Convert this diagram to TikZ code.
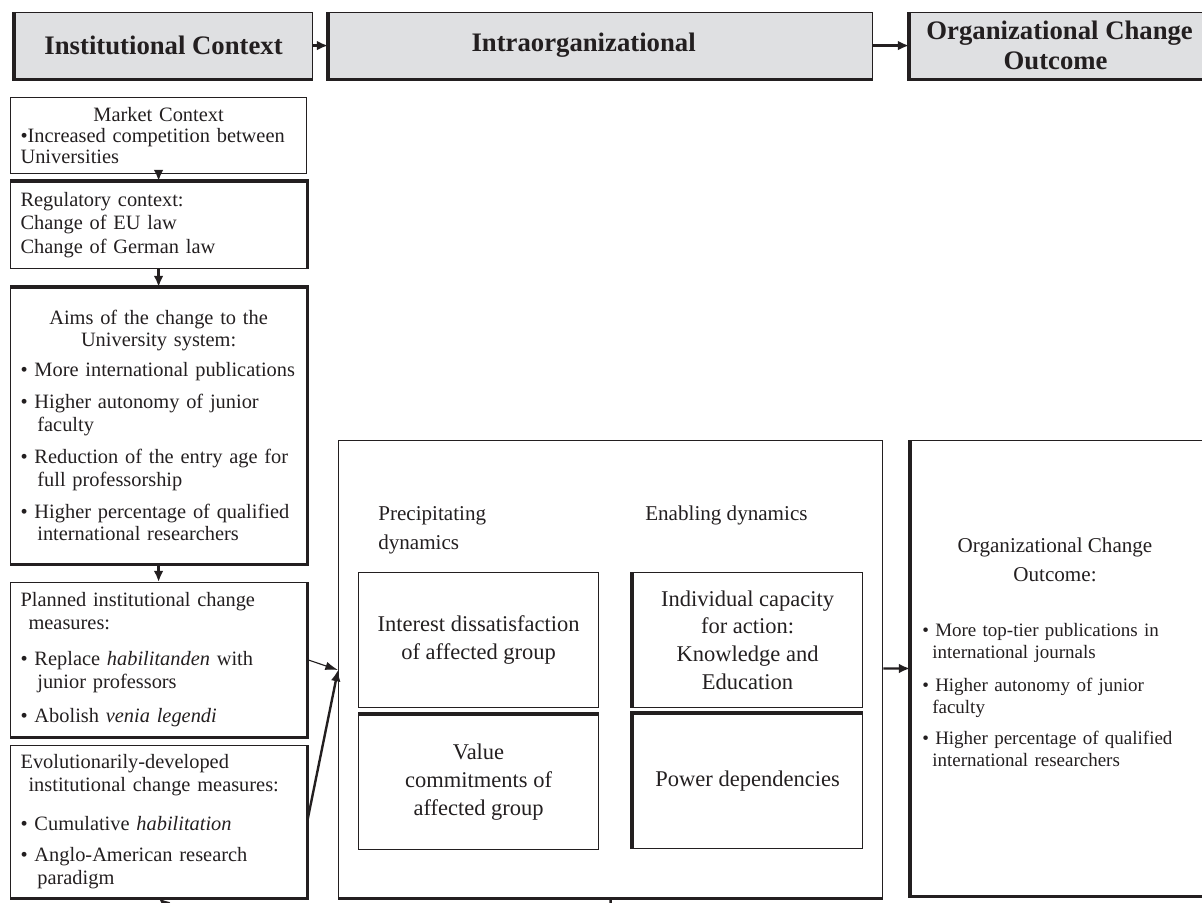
\documentclass[tikz,border=0pt]{standalone}
\usepackage{fontspec}
\setmainfont{Liberation Serif}
\usetikzlibrary{arrows.meta}
\definecolor{hdrgray}{RGB}{223,224,226}
\definecolor{ink}{RGB}{35,31,32}

\begin{document}
\begin{tikzpicture}
  [x=0.025cm,y=-0.025cm,
   every node/.style={inner sep=0pt,text=ink},
   hdr/.style={draw=ink,line width=0.8pt,fill=hdrgray,anchor=north west,
     minimum height=1.65cm,align=center,font=\fontsize{19}{21}\selectfont\bfseries},
   box/.style={draw=ink,line width=0.8pt,anchor=north west,align=left,
     inner xsep=0.25cm,text width=6.9cm,font=\fontsize{14.5}{16}\selectfont},
   inbox/.style={draw=ink,line width=0.8pt,anchor=north west,align=center,
     minimum height=3.375cm,font=\fontsize{16}{19.7}\selectfont},
   heavy/.style={draw=ink,line width=2.2pt},
   link/.style={draw=ink,line width=1.7pt,-{Latex[length=8pt,width=7pt]}},
   thinlink/.style={draw=ink,line width=0.8pt,-{Latex[length=9pt,width=6pt]}}]

  \useasboundingbox (0,0) rectangle (1202,902);
  \clip (0,0) rectangle (1202,902);

  % header row
  \node[hdr,minimum width=7.45cm] (hdrA) at (14,12)  {Institutional Context};
  \node[hdr,minimum width=13.6cm] (hdrB) at (328,12) {Intraorganizational\hspace*{0.85cm}};
  \node[hdr,minimum width=7.7cm]  (hdrC) at (909,12) {Organizational Change\hspace*{0.2cm}\\Outcome\hspace*{0.4cm}};

  % institutional context column
  \node[box,minimum height=1.9cm,font=\fontsize{14.5}{15}\selectfont] (market) at (10,97)
    {{\centering Market Context\par}\textbullet Increased competition between\\Universities};
  \node[box,minimum height=2.175cm,font=\fontsize{14.5}{17}\selectfont] (reg) at (10,181)
    {Regulatory context:\\Change of EU law\\Change of German law};
  \node[box,minimum height=6.9cm] (aims) at (10,287)
    {{\centering Aims of the change to the\\University system:\par}\vspace{5pt}
     \textbullet\ More international publications\\[7pt]
     \textbullet\ Higher autonomy of junior\\\hspace*{0.42cm}faculty\\[7pt]
     \textbullet\ Reduction of the entry age for\\\hspace*{0.42cm}full professorship\\[7pt]
     \textbullet\ Higher percentage of qualified\\\hspace*{0.42cm}international researchers};
  \node[box,minimum height=3.85cm] (planned) at (10,582)
    {Planned institutional change\\\hspace*{0.2cm}measures:\\[10pt]
     \textbullet\ Replace \textit{habilitanden} with\\\hspace*{0.42cm}junior professors\\[8pt]
     \textbullet\ Abolish \textit{venia legendi}};
  \node[box,minimum height=3.8cm] (evol) at (10,745)
    {Evolutionarily-developed\\\hspace*{0.2cm}institutional change measures:\\[12pt]
     \textbullet\ Cumulative \textit{habilitation}\\[6pt]
     \textbullet\ Anglo-American research\\\hspace*{0.42cm}paradigm};

  % intraorganizational dynamics
  \node[draw=ink,line width=0.8pt,anchor=north west,minimum width=13.6cm,minimum height=11.425cm] (intra) at (338,440) {};
  \node[anchor=north west,align=left,font=\fontsize{15}{21}\selectfont] (precip) at (378,506) {Precipitating\\dynamics};
  \node[anchor=north west,align=left,font=\fontsize{15}{21}\selectfont] (enab) at (645,506) {Enabling dynamics};
  \node[inbox,minimum width=6cm]  (interest) at (358,572) {Interest dissatisfaction\\of affected group};
  \node[inbox,minimum width=6cm]  (value)    at (358,714) {Value\\commitments of\\affected group};
  \node[inbox,minimum width=5.75cm] (indiv)  at (632,572) {Individual capacity\\for action:\\Knowledge and\\Education};
  \node[inbox,minimum width=5.75cm] (power)  at (632,713) {Power dependencies};

  % outcome
  \node[draw=ink,line width=0.8pt,anchor=north west,minimum width=7.7cm,minimum height=11.375cm] (outcome) at (910,440) {};
  \node[align=center,font=\fontsize{15}{21}\selectfont] (outtitle) at (1055,560) {Organizational Change\\Outcome:};
  \node[anchor=north west,align=left,text width=6.6cm,font=\fontsize{13.5}{15.5}\selectfont] (outlist) at (922,623)
    {\textbullet\ More top-tier publications in\\\hspace*{0.25cm}international journals\\[8pt]
     \textbullet\ Higher autonomy of junior\\\hspace*{0.25cm}faculty\\[7pt]
     \textbullet\ Higher percentage of qualified\\\hspace*{0.25cm}international researchers};

  % heavy edges
  \foreach \n in {hdrA,hdrB,hdrC,outcome}
    \draw[heavy] (\n.north west) -- (\n.south west) -- (\n.south east);
  \foreach \n in {planned,evol}
    \draw[heavy] (\n.north east) -- (\n.south east) -- (\n.south west);
  \draw[heavy] (reg.north west) -- (reg.north east) -- (reg.south east);
  \draw[heavy] (aims.north west) -- (aims.north east) -- (aims.south east) -- (aims.south west);
  \draw[heavy] (intra.south west) -- (intra.south east);
  \draw[heavy] (value.north west) -- (value.north east);
  \draw[heavy] (indiv.north west) -- (indiv.south west);
  \draw[heavy] (power.south west) -- (power.north west) -- (power.north east);

  % connectors
  \coordinate (hit) at (338,670);
  \coordinate (offA) at (200,935);
  \coordinate (offB) at (610,935);
  \foreach \from/\to in {hdrA/hdrB,hdrB/hdrC,market/reg,reg/aims,aims/planned,intra/outcome}
    \draw[link] (\from) -- (\to);
  \draw[thinlink] (planned.east) -- (hit);
  \draw[link] (evol.east) -- (hit);
  \draw[link] (offA) -- (evol.south);
  \draw[ink,line width=1.7pt] (intra.south) -- (offB);

\end{tikzpicture}
\end{document}
